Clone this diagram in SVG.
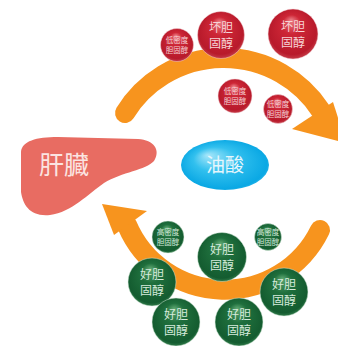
<svg xmlns="http://www.w3.org/2000/svg" width="338" height="346" viewBox="0 0 338 346">
  <defs>
    <radialGradient id="redBall" cx="50%" cy="48%" r="55%" fx="46%" fy="22%">
      <stop offset="0" stop-color="#EC8088"/>
      <stop offset="0.35" stop-color="#CD2636"/>
      <stop offset="0.85" stop-color="#B81A2B"/>
      <stop offset="1" stop-color="#C94550"/>
    </radialGradient>
    <radialGradient id="greenBall" cx="50%" cy="48%" r="55%" fx="46%" fy="22%">
      <stop offset="0" stop-color="#5FA872"/>
      <stop offset="0.38" stop-color="#1F6F3D"/>
      <stop offset="0.88" stop-color="#145C30"/>
      <stop offset="1" stop-color="#3A8552"/>
    </radialGradient>
    <radialGradient id="oleic" cx="50%" cy="50%" r="55%" fx="30%" fy="30%">
      <stop offset="0" stop-color="#A6E6FA"/>
      <stop offset="0.45" stop-color="#32C0EE"/>
      <stop offset="0.9" stop-color="#0AA8E4"/>
      <stop offset="1" stop-color="#3FBDEB"/>
    </radialGradient>
  </defs>
  <style>
    .flow { fill: none; stroke: #F7941E; stroke-width: 20; stroke-linecap: round; }
    .head { fill: #F7941E; }
    .red { fill: url(#redBall); stroke: #F3D3D6; stroke-opacity: 0.6; stroke-width: 0.8; }
    .green { fill: url(#greenBall); stroke: #D6E9DC; stroke-opacity: 0.6; stroke-width: 0.8; }
    .cjk { font-family: "Noto Sans CJK SC", "Noto Sans CJK JP", sans-serif; text-anchor: middle; }
    .rt { fill: #F6D3D6; }
    .gt { fill: #D5EADB; }
    .big { font-size: 12px; }
    .small { font-size: 7.5px; }
  </style>

  <!-- liver -->
  <g id="liver">
    <path d="M21,152 C22,141 36,137 58,137 L138,139 C154,140 161,150 154,161 C146,170 122,172 104,183 C88,194 72,212 50,215 C30,217 23,205 21,192 Z" fill="#E86C62"/>
    <text class="cjk" x="64" y="174" font-size="25" fill="#FBE4E1">肝臓</text>
  </g>

  <!-- oleic acid -->
  <g id="oleic-acid">
    <ellipse cx="225" cy="165" rx="44" ry="25" fill="url(#oleic)"/>
    <text class="cjk" x="225" y="172" font-size="19" fill="#E6F6FC">油酸</text>
  </g>

  <!-- circulation arrows -->
  <g id="connectors">
    <path class="flow" d="M125,113 A116,116 0 0 1 320.5,110.2"/>
    <polygon class="head" points="292,129 333,102 346,143"/>
    <path class="flow" d="M320,230 A106,106 0 0 1 127,225"/>
    <polygon class="head" points="147,211 114,235 102,204"/>
  </g>

  <!-- LDL cholesterol -->
  <g id="ldl-1">
    <circle class="red" cx="177" cy="45" r="16.5"/>
    <text class="cjk rt small" x="177" y="43">低密度<tspan x="177" dy="10">胆固醇</tspan></text>
  </g>
  <g id="bad-chol-1">
    <circle class="red" cx="221" cy="35" r="23.5"/>
    <text class="cjk rt big" x="221" y="32">坏胆<tspan x="221" dy="16">固醇</tspan></text>
  </g>
  <g id="bad-chol-2">
    <circle class="red" cx="293" cy="34" r="25"/>
    <text class="cjk rt big" x="293" y="31">坏胆<tspan x="293" dy="16">固醇</tspan></text>
  </g>
  <g id="ldl-2">
    <circle class="red" cx="235" cy="96" r="17"/>
    <text class="cjk rt small" x="235" y="94">低密度<tspan x="235" dy="10">胆固醇</tspan></text>
  </g>
  <g id="ldl-3">
    <circle class="red" cx="278" cy="109" r="14.5"/>
    <text class="cjk rt small" x="278" y="107">低密度<tspan x="278" dy="10">胆固醇</tspan></text>
  </g>

  <!-- HDL cholesterol -->
  <g id="hdl-1">
    <circle class="green" cx="168" cy="237" r="16"/>
    <text class="cjk gt small" x="168" y="235">高密度<tspan x="168" dy="10">胆固醇</tspan></text>
  </g>
  <g id="hdl-2">
    <circle class="green" cx="268" cy="237" r="13.5"/>
    <text class="cjk gt small" x="268" y="235">高密度<tspan x="268" dy="10">胆固醇</tspan></text>
  </g>
  <g id="good-chol-1">
    <circle class="green" cx="222" cy="257" r="24.5"/>
    <text class="cjk gt big" x="222" y="254">好胆<tspan x="222" dy="16">固醇</tspan></text>
  </g>
  <g id="good-chol-2">
    <circle class="green" cx="152" cy="282" r="24"/>
    <text class="cjk gt big" x="152" y="279">好胆<tspan x="152" dy="16">固醇</tspan></text>
  </g>
  <g id="good-chol-3">
    <circle class="green" cx="284" cy="292" r="24"/>
    <text class="cjk gt big" x="284" y="289">好胆<tspan x="284" dy="16">固醇</tspan></text>
  </g>
  <g id="good-chol-4">
    <circle class="green" cx="176" cy="322" r="24"/>
    <text class="cjk gt big" x="176" y="319">好胆<tspan x="176" dy="16">固醇</tspan></text>
  </g>
  <g id="good-chol-5">
    <circle class="green" cx="239" cy="322" r="24"/>
    <text class="cjk gt big" x="239" y="319">好胆<tspan x="239" dy="16">固醇</tspan></text>
  </g>
</svg>
